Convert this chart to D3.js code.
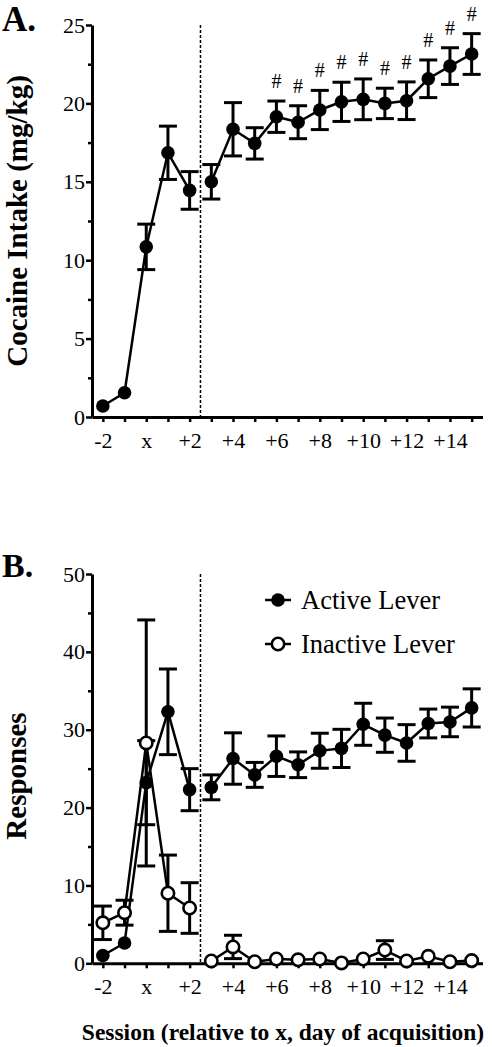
<!DOCTYPE html>
<html>
<head>
<meta charset="utf-8">
<script src="https://cdn.jsdelivr.net/npm/d3@7"></script>
<style>
  html, body { margin: 0; padding: 0; background: #fff; }
  svg { display: block; font-family: "Liberation Serif", "Times New Roman", serif; }
  svg text { font-family: "Liberation Serif", "Times New Roman", serif; }
</style>
</head>
<body>
<svg id="chart" width="492" height="1047"></svg>
<script>
// ---------- data ----------
const sessions = [-2, -1, 0, 1, 2, 3, 4, 5, 6, 7, 8, 9, 10, 11, 12, 13, 14, 15];
const xTickLabels = ["-2", "x", "+2", "+4", "+6", "+8", "+10", "+12", "+14"];
const xTickLabelValues = [-2, 0, 2, 4, 6, 8, 10, 12, 14];

const cocaineMean = [0.7, 1.55, 10.85, 16.85, 14.45, 15.0, 18.35, 17.45, 19.15, 18.8, 19.58, 20.1, 20.26, 20.0, 20.17, 21.57, 22.38, 23.15];
const cocaineSem  = [0, 0, 1.45, 1.7, 1.2, 1.1, 1.7, 1.0, 1.0, 1.05, 1.25, 1.25, 1.3, 0.97, 1.2, 1.2, 1.17, 1.3];
const significantSessions = [6, 7, 8, 9, 10, 11, 12, 13, 14, 15];

const activeMean   = [1.0, 2.6, 23.2, 32.3, 22.3, 22.6, 26.3, 24.2, 26.6, 25.5, 27.3, 27.6, 30.7, 29.3, 28.3, 30.8, 31.0, 32.8];
const activeSem    = [0, 0, 5.4, 5.5, 2.7, 1.6, 3.3, 1.6, 2.6, 1.65, 2.25, 2.45, 2.7, 2.2, 2.35, 1.85, 1.9, 2.45];
const inactiveMean = [5.2, 6.5, 28.3, 9.0, 7.1, 0.3, 2.1, 0.2, 0.55, 0.45, 0.55, 0.05, 0.55, 1.7, 0.3, 0.9, 0.2, 0.35];
const inactiveSem  = [2.15, 1.6, 15.8, 4.9, 3.25, 0, 1.5, 0, 0, 0, 0, 0, 0, 1.2, 0, 0, 0, 0];

const yTicksA = [0, 5, 10, 15, 20, 25];
const yMinorA = [2.5, 7.5, 12.5, 17.5, 22.5];
const yTicksB = [0, 10, 20, 30, 40, 50];
const yMinorB = [5, 15, 25, 35, 45];
const acquisitionSplit = 2.5;

// ---------- layout ----------
const FONT = "Liberation Serif";
const svg = d3.select("#chart");
const x = d3.scaleLinear().domain([-2.5, 15.5]).range([92, 482.5]);
const yA = d3.scaleLinear().domain([0, 25]).range([417, 25]);
const yB = d3.scaleLinear().domain([0, 50]).range([963.3, 574]);

const fmtX = v => { const i = xTickLabelValues.indexOf(v); return i >= 0 ? xTickLabels[i] : ""; };

function drawAxes(y, yTicks, yMinor) {
  const g = svg.append("g");
  g.append("g").attr("transform", `translate(${x.range()[0]},0)`)
    .call(d3.axisLeft(y).tickValues(yMinor).tickSize(4).tickFormat(""))
    .call(s => s.select(".domain").remove())
    .call(s => s.selectAll("line").attr("stroke-width", 2.5));
  const ya = g.append("g").attr("transform", `translate(${x.range()[0]},0)`)
    .call(d3.axisLeft(y).tickValues(yTicks).tickSize(6).tickSizeOuter(0).tickPadding(1).tickFormat(d3.format("d")));
  ya.attr("font-family", FONT);
  ya.select(".domain").attr("stroke-width", 3);
  ya.selectAll("line").attr("stroke-width", 2.5);
  ya.selectAll("text").attr("font-size", 22).attr("font-family", FONT).attr("fill", "#000");
  const xa = g.append("g").attr("transform", `translate(0,${y(0)})`)
    .call(d3.axisBottom(x).tickValues(sessions).tickSize(5).tickSizeOuter(0).tickPadding(10).tickFormat(fmtX));
  xa.attr("font-family", FONT);
  xa.select(".domain").attr("stroke-width", 3);
  xa.selectAll("line").attr("stroke-width", 2.5);
  xa.selectAll("text").attr("font-size", 22).attr("font-family", FONT).attr("fill", "#000");
  g.append("line")
    .attr("x1", x(acquisitionSplit)).attr("x2", x(acquisitionSplit))
    .attr("y1", y(y.domain()[1])).attr("y2", y(0))
    .attr("stroke", "#000").attr("stroke-width", 1.5).attr("stroke-dasharray", "3,2");
}

function drawSeries(y, mean, sem, filled) {
  const g = svg.append("g");
  const idx = d3.range(sessions.length);
  const capW = 9;
  idx.filter(i => sem[i] > 0).forEach(i => {
    const xi = x(sessions[i]), lo = y(mean[i] - sem[i]), hi = y(mean[i] + sem[i]);
    g.append("line").attr("x1", xi).attr("x2", xi).attr("y1", lo).attr("y2", hi).attr("stroke", "#000").attr("stroke-width", 3);
    g.append("line").attr("x1", xi - capW).attr("x2", xi + capW).attr("y1", hi).attr("y2", hi).attr("stroke", "#000").attr("stroke-width", 3);
    g.append("line").attr("x1", xi - capW).attr("x2", xi + capW).attr("y1", lo).attr("y2", lo).attr("stroke", "#000").attr("stroke-width", 3);
  });
  const line = d3.line().x(i => x(sessions[i])).y(i => y(mean[i]));
  const before = idx.filter(i => sessions[i] < acquisitionSplit);
  const after = idx.filter(i => sessions[i] > acquisitionSplit);
  [before, after].forEach(seg => g.append("path").attr("d", line(seg)).attr("fill", "none").attr("stroke", "#000").attr("stroke-width", 2.5));
  g.selectAll("circle").data(idx).join("circle")
    .attr("cx", i => x(sessions[i])).attr("cy", i => y(mean[i])).attr("r", filled ? 6.8 : 6.2)
    .attr("fill", filled ? "#000" : "#fff").attr("stroke", "#000").attr("stroke-width", filled ? 0 : 2.6);
}

// ---------- Panel A ----------
drawAxes(yA, yTicksA, yMinorA);
drawSeries(yA, cocaineMean, cocaineSem, true);
svg.append("g").selectAll("text").data(significantSessions).join("text")
  .attr("x", s => x(s)).attr("y", s => { const i = sessions.indexOf(s); return yA(cocaineMean[i] + cocaineSem[i]) - 13; })
  .attr("text-anchor", "middle").attr("font-size", 20).attr("font-family", FONT).text("#");

svg.append("text").attr("x", 2).attr("y", 31).attr("font-size", 35).attr("font-weight", "bold").attr("font-family", FONT).text("A.");
svg.append("text").attr("transform", `translate(27,${(yA(0) + yA(25)) / 2}) rotate(-90)`)
  .attr("text-anchor", "middle").attr("font-size", 29).attr("font-weight", "bold").attr("font-family", FONT).text("Cocaine Intake (mg/kg)");

// ---------- Panel B ----------
drawAxes(yB, yTicksB, yMinorB);
drawSeries(yB, activeMean, activeSem, true);
drawSeries(yB, inactiveMean, inactiveSem, false);

svg.append("text").attr("x", 2).attr("y", 577).attr("font-size", 34).attr("font-weight", "bold").attr("font-family", FONT).text("B.");
svg.append("text").attr("transform", `translate(26,776) rotate(-90)`)
  .attr("text-anchor", "middle").attr("font-size", 29).attr("font-weight", "bold").attr("font-family", FONT).text("Responses");

const legend = [{label: "Active Lever", filled: true, y: 600}, {label: "Inactive Lever", filled: false, y: 644}];
const lg = svg.append("g");
legend.forEach(d => {
  lg.append("line").attr("x1", 265).attr("x2", 291).attr("y1", d.y).attr("y2", d.y).attr("stroke", "#000").attr("stroke-width", 2.5);
  lg.append("circle").attr("cx", 278).attr("cy", d.y).attr("r", d.filled ? 6.8 : 6.2)
    .attr("fill", d.filled ? "#000" : "#fff").attr("stroke", "#000").attr("stroke-width", d.filled ? 0 : 2.6);
  lg.append("text").attr("x", 301).attr("y", d.y + 8.5).attr("font-size", 26.5).attr("font-family", FONT).text(d.label);
});

svg.append("text").attr("x", 283).attr("y", 1040).attr("text-anchor", "middle")
  .attr("font-size", 23.5).attr("font-weight", "bold").attr("font-family", FONT).text("Session (relative to x, day of acquisition)");
</script>
</body>
</html>
